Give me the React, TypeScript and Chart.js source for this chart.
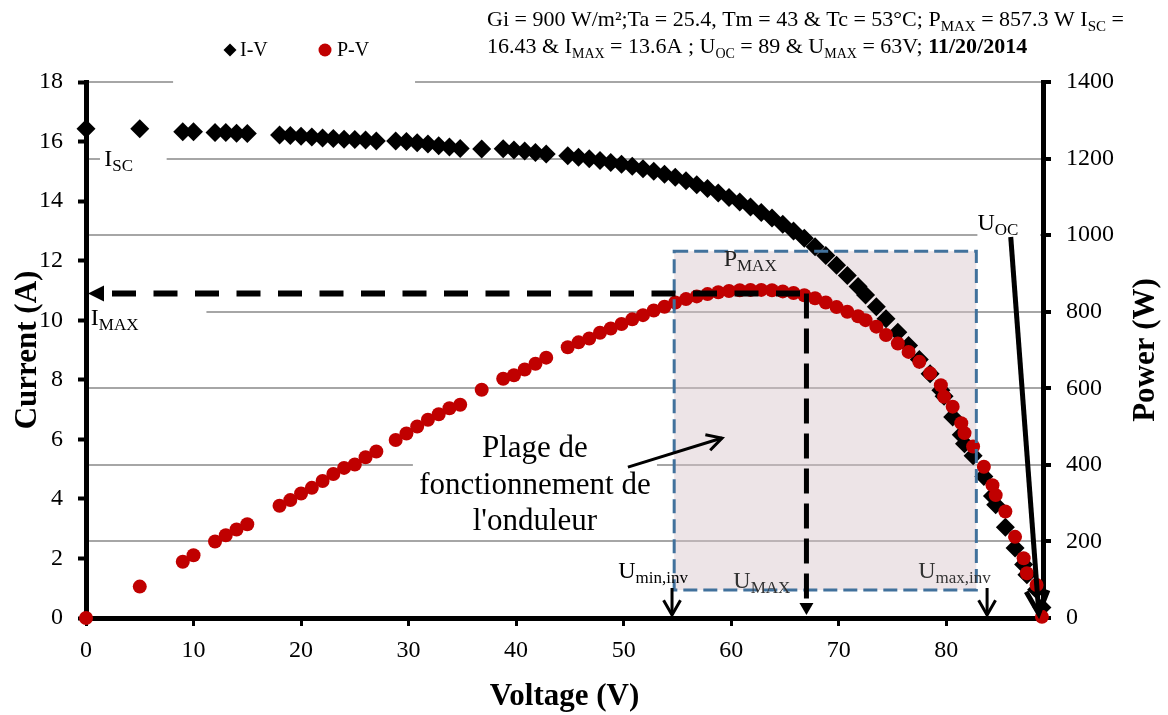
import React, { useEffect, useRef } from 'react';
import { Chart, registerables } from 'chart.js';

Chart.register(...registerables);

const FONT = "'Liberation Serif', 'Times New Roman', Times, serif";

// Measured voltage of each point (V)
const voltage = [
  0, 5, 9, 10, 12, 13, 14, 15,
  18, 19, 20, 21, 22, 23, 24, 25, 26, 27,
  28.8, 29.8, 30.8, 31.8, 32.8, 33.8, 34.8,
  36.8,
  38.8, 39.8, 40.8, 41.8, 42.8,
  44.8, 45.8, 46.8, 47.8, 48.8, 49.8, 50.8, 51.8, 52.8, 53.8, 54.8, 55.8, 56.8, 57.8,
  58.8, 59.8, 60.8, 61.8, 62.8, 63.8, 64.8, 65.8, 66.8, 67.8, 68.8, 69.8, 70.8, 71.8,
  72.5, 73.5, 74.4, 75.5, 76.5, 77.5, 78.5, 79.5, 79.8, 80.6, 81.4, 81.7, 82.5, 83.5,
  84.3, 84.6, 85.5, 86.4, 87.2, 87.5, 88.4, 88.9,
];

// I-V series: current (A)
const current = [
  16.43, 16.43, 16.33, 16.33, 16.3, 16.3, 16.28, 16.27,
  16.22, 16.2, 16.18, 16.15, 16.12, 16.1, 16.08, 16.07, 16.05, 16.02,
  16.02, 16.0, 15.96, 15.92, 15.86, 15.82, 15.77,
  15.75,
  15.76, 15.72, 15.68, 15.63, 15.58,
  15.52, 15.47, 15.42, 15.36, 15.3, 15.24, 15.17, 15.09, 15.0, 14.9, 14.8, 14.68, 14.55, 14.42,
  14.27, 14.12, 13.97, 13.8, 13.62, 13.43, 13.22, 13.0, 12.75, 12.47, 12.17, 11.85, 11.5, 11.13,
  10.85, 10.45, 10.05, 9.6, 9.15, 8.68, 8.2, 7.65, 7.45, 6.75, 6.15, 5.85, 5.45, 4.75,
  4.1, 3.8, 3.05, 2.35, 1.8, 1.45, 0.95, 0.35,
];

// P-V series: power (W)
const power = [
  0, 82, 147, 164, 200, 216, 231, 245,
  293, 308, 325, 340, 358, 376, 392, 401, 420, 435,
  465, 482, 500, 518, 532, 548, 557,
  596,
  625, 634, 649, 664, 680,
  707, 720, 730, 745, 756, 768, 780, 791, 803, 813, 824, 833, 840, 846,
  851, 854, 856, 857, 857, 856, 853, 849, 843, 835, 824, 812, 800, 788,
  778, 761, 739, 717, 695, 669, 639, 608, 578, 552, 509, 483, 448, 395,
  347, 321, 278, 212, 156, 117, 86, 3,
];

// Axis ranges
const X_RANGE = [0, 89];
const X_STEP = 10;
const I_RANGE = [0, 18];
const I_STEP = 2;
const P_RANGE = [0, 1400];
const P_STEP = 200;

// Annotation anchors (data units)
const BOX_V = [54.7, 82.8];
const BOX_W = [73, 958];
const IMAX_LEVEL_A = 10.9;
const UMAX_V = 67.0;
const UMIN_INV_V = 54.5;
const UMAX_INV_V = 83.8;
const UOC_FROM = [86.0, 995];
const UOC_TO = [88.6, 12];
const NOTE_FROM = [50.4, 394];
const NOTE_TO = [59.15, 470];

const gridBreaks = [
  { w: 1400, v0: 8.1, v1: 30.6 },
  { w: 1200, v0: 1.3, v1: 7.5 },
  { w: 1000, v0: 82.9, v1: 89 },
  { w: 800, v0: 0, v1: 11.2 },
  { w: 400, v0: 30.4, v1: 53.1 },
];

type Part = [string, string?];

function drawRich(
  ctx: CanvasRenderingContext2D,
  x: number,
  y: number,
  parts: Part[],
  size: number,
  color = '#000',
  subRatio = 0.7
) {
  const subSize = Math.round(size * subRatio);
  const fontFor = (k?: string) =>
    `${k === 'b' ? 'bold ' : ''}${k === 's' ? subSize : size}px ${FONT}`;
  let cx = x;
  ctx.fillStyle = color;
  ctx.textAlign = 'left';
  ctx.textBaseline = 'alphabetic';
  for (const [t, k] of parts) {
    ctx.font = fontFor(k);
    ctx.fillText(t, cx, y + (k === 's' ? size * 0.22 : 0));
    cx += ctx.measureText(t).width;
  }
  return cx - x;
}

function openHead(
  ctx: CanvasRenderingContext2D,
  fx: number,
  fy: number,
  tx: number,
  ty: number,
  len: number,
  ang: number
) {
  const a = Math.atan2(ty - fy, tx - fx);
  ctx.beginPath();
  ctx.moveTo(tx - len * Math.cos(a - ang), ty - len * Math.sin(a - ang));
  ctx.lineTo(tx, ty);
  ctx.lineTo(tx - len * Math.cos(a + ang), ty - len * Math.sin(a + ang));
  ctx.stroke();
}

const annotPlugin = {
  id: 'annot',
  beforeDatasetsDraw(chart: any) {
    const { ctx, chartArea } = chart;
    const { x, y1 } = chart.scales;
    ctx.save();
    ctx.fillStyle = '#fff';
    for (const g of gridBreaks) {
      const py = y1.getPixelForValue(g.w);
      const px0 = Math.max(x.getPixelForValue(g.v0), chartArea.left + 3);
      const px1 = Math.min(x.getPixelForValue(g.v1), chartArea.right - 3);
      ctx.fillRect(px0, py - 3, px1 - px0, 6);
    }
    const bx0 = x.getPixelForValue(BOX_V[0]);
    const bx1 = x.getPixelForValue(BOX_V[1]);
    const by0 = y1.getPixelForValue(BOX_W[1]);
    const by1 = y1.getPixelForValue(BOX_W[0]);
    ctx.fillStyle = 'rgba(214, 196, 202, 0.45)';
    ctx.fillRect(bx0, by0, bx1 - bx0, by1 - by0);
    ctx.restore();
  },
  afterDatasetsDraw(chart: any) {
    const { ctx, chartArea } = chart;
    const { x, y, y1 } = chart.scales;
    const X = (v: number) => x.getPixelForValue(v);
    const W = (w: number) => y1.getPixelForValue(w);
    const A = (a: number) => y.getPixelForValue(a);
    ctx.save();
    ctx.lineCap = 'butt';
    ctx.lineJoin = 'miter';

    // inverter operating range box
    ctx.strokeStyle = '#41719c';
    ctx.lineWidth = 3;
    ctx.setLineDash([14, 6]);
    ctx.strokeRect(X(BOX_V[0]), W(BOX_W[1]), X(BOX_V[1]) - X(BOX_V[0]), W(BOX_W[0]) - W(BOX_W[1]));

    // I_MAX dashed line with arrow to axis
    const ly = A(IMAX_LEVEL_A);
    const ux = X(UMAX_V);
    ctx.strokeStyle = '#000';
    ctx.lineWidth = 6;
    ctx.setLineDash([24, 17.5]);
    ctx.beginPath();
    ctx.moveTo(chartArea.left + 26, ly);
    ctx.lineTo(ux + 2, ly);
    ctx.stroke();
    ctx.setLineDash([]);
    ctx.fillStyle = '#000';
    ctx.beginPath();
    ctx.moveTo(chartArea.left + 2, ly);
    ctx.lineTo(chartArea.left + 18, ly - 8);
    ctx.lineTo(chartArea.left + 18, ly + 8);
    ctx.closePath();
    ctx.fill();

    // U_MAX vertical dashed line and marker
    ctx.lineWidth = 5;
    ctx.setLineDash([25, 10]);
    ctx.beginPath();
    ctx.moveTo(ux, ly);
    ctx.lineTo(ux, chartArea.bottom - 14);
    ctx.stroke();
    ctx.setLineDash([]);
    ctx.beginPath();
    ctx.moveTo(ux - 7, chartArea.bottom - 15);
    ctx.lineTo(ux + 7, chartArea.bottom - 15);
    ctx.lineTo(ux, chartArea.bottom - 3);
    ctx.closePath();
    ctx.fill();

    // U_min,inv and U_max,inv arrows
    ctx.lineWidth = 3;
    for (const v of [UMIN_INV_V, UMAX_INV_V]) {
      const px = X(v);
      const top = chartArea.bottom - 30;
      const tip = chartArea.bottom - 3;
      ctx.beginPath();
      ctx.moveTo(px, top);
      ctx.lineTo(px, tip);
      ctx.stroke();
      openHead(ctx, px, top, px, tip, 17, 0.52);
    }

    // U_OC arrow
    ctx.lineWidth = 5;
    const ox0 = X(UOC_FROM[0]);
    const oy0 = W(UOC_FROM[1]);
    const ox1 = X(UOC_TO[0]);
    const oy1 = W(UOC_TO[1]);
    ctx.beginPath();
    ctx.moveTo(ox0, oy0);
    ctx.lineTo(ox1, oy1 - 2);
    ctx.stroke();
    openHead(ctx, ox0, oy0, ox1, oy1, 25, 0.45);

    // note arrow
    ctx.lineWidth = 3;
    const nx0 = X(NOTE_FROM[0]);
    const ny0 = W(NOTE_FROM[1]);
    const nx1 = X(NOTE_TO[0]);
    const ny1 = W(NOTE_TO[1]);
    ctx.beginPath();
    ctx.moveTo(nx0, ny0);
    ctx.lineTo(nx1, ny1);
    ctx.stroke();
    openHead(ctx, nx0, ny0, nx1, ny1, 17, 0.5);
    ctx.restore();
  },
  afterDraw(chart: any) {
    const { ctx, chartArea } = chart;
    const { x, y, y1 } = chart.scales;
    const X = (v: number) => x.getPixelForValue(v);
    const W = (w: number) => y1.getPixelForValue(w);
    const A = (a: number) => y.getPixelForValue(a);
    ctx.save();

    // point labels
    drawRich(ctx, X(1.7), A(15.18), [['I'], ['SC', 's']], 24);
    drawRich(ctx, X(0.45), A(9.85), [['I'], ['MAX', 's']], 24);
    drawRich(ctx, X(59.3), W(919), [['P'], ['MAX', 's']], 24, '#222');
    drawRich(ctx, X(82.9), W(1013), [['U'], ['OC', 's']], 24);
    drawRich(ctx, X(49.5), W(104), [['U'], ['min,inv', 's']], 24);
    drawRich(ctx, X(60.2), W(78), [['U'], ['MAX', 's']], 24, '#333');
    drawRich(ctx, X(77.4), W(104), [['U'], ['max,inv', 's']], 24, '#333');

    // note text
    ctx.fillStyle = '#000';
    ctx.font = `31px ${FONT}`;
    ctx.textAlign = 'center';
    ctx.textBaseline = 'alphabetic';
    const nx = X(41.75);
    const ny = W(420.5);
    ['Plage de', 'fonctionnement de', "l'onduleur"].forEach((t, i) => ctx.fillText(t, nx, ny + i * 36.6));

    // right axis title
    ctx.save();
    ctx.translate(chartArea.right + 103, (chartArea.top + chartArea.bottom) / 2);
    ctx.rotate(-Math.PI / 2);
    ctx.font = `bold 31px ${FONT}`;
    ctx.textAlign = 'center';
    ctx.textBaseline = 'middle';
    ctx.fillText('Power (W)', 0, 0);
    ctx.restore();

    // legend
    ctx.fillStyle = '#000';
    ctx.beginPath();
    ctx.moveTo(230, 43.5);
    ctx.lineTo(236.5, 50);
    ctx.lineTo(230, 56.5);
    ctx.lineTo(223.5, 50);
    ctx.closePath();
    ctx.fill();
    ctx.font = `20px ${FONT}`;
    ctx.textAlign = 'left';
    ctx.textBaseline = 'middle';
    ctx.fillText('I-V', 240, 51);
    ctx.fillStyle = '#c00000';
    ctx.beginPath();
    ctx.arc(325, 50, 6.5, 0, Math.PI * 2);
    ctx.fill();
    ctx.fillStyle = '#000';
    ctx.fillText('P-V', 337, 51);

    // header text
    drawRich(
      ctx,
      487,
      26,
      [
        ['Gi = 900 W/m²;Ta = 25.4, Tm = 43 & Tc = 53°C; P'],
        ['MAX', 's'],
        [' = 857.3 W I'],
        ['SC', 's'],
        [' ='],
      ],
      22,
      '#000',
      0.66
    );
    drawRich(
      ctx,
      487,
      53,
      [
        ['16.43 & I'],
        ['MAX', 's'],
        [' = 13.6A ; U'],
        ['OC', 's'],
        [' = 89 & U'],
        ['MAX', 's'],
        [' = 63V; '],
        ['11/20/2014', 'b'],
      ],
      22,
      '#000',
      0.62
    );
    ctx.restore();
  },
};

export default function App() {
  const ref = useRef<HTMLCanvasElement>(null);
  useEffect(() => {
    if (!ref.current) return;
    const ivPoints = voltage.map((v, i) => ({ x: v, y: current[i] }));
    const pvPoints = voltage.map((v, i) => ({ x: v, y: power[i] }));
    const tickFont = { family: FONT, size: 24 };
    const plain = (v: any) => String(v);
    const chart = new Chart(ref.current, {
      type: 'scatter',
      data: {
        datasets: [
          {
            label: 'P-V',
            data: pvPoints,
            yAxisID: 'y1',
            pointStyle: 'circle',
            pointRadius: 7,
            pointBorderWidth: 0,
            backgroundColor: '#c00000',
            borderColor: '#c00000',
            showLine: false,
            clip: false,
            order: 0,
          },
          {
            label: 'I-V',
            data: ivPoints,
            yAxisID: 'y',
            pointStyle: 'rectRot',
            pointRadius: 9.5,
            pointBorderWidth: 0,
            backgroundColor: '#000',
            borderColor: '#000',
            showLine: false,
            clip: false,
            order: 1,
          },
        ],
      },
      options: {
        responsive: false,
        animation: false,
        events: [],
        layout: { padding: { top: 82, left: 0, right: 0, bottom: 0 } },
        plugins: {
          legend: { display: false },
          title: { display: false },
          tooltip: { enabled: false },
        },
        scales: {
          x: {
            type: 'linear',
            position: 'bottom',
            min: X_RANGE[0],
            max: X_RANGE[1],
            ticks: {
              stepSize: X_STEP,
              includeBounds: false,
              padding: 10,
              font: tickFont,
              color: '#000',
              maxRotation: 0,
              callback: plain,
            },
            grid: { drawOnChartArea: false, drawTicks: true, tickLength: 8, tickWidth: 3, tickColor: '#000' },
            border: { display: true, width: 5, color: '#000' },
            title: {
              display: true,
              text: 'Voltage (V)',
              color: '#000',
              font: { family: FONT, size: 31, weight: 'bold', lineHeight: 1 },
              padding: { top: 0, bottom: 3 },
            },
            afterFit: (s: any) => {
              s.height = 97;
            },
          },
          y: {
            type: 'linear',
            position: 'left',
            min: I_RANGE[0],
            max: I_RANGE[1],
            ticks: { stepSize: I_STEP, padding: 15, font: tickFont, color: '#000', callback: plain },
            grid: { drawOnChartArea: false, drawTicks: true, tickLength: 8, tickWidth: 4, tickColor: '#000' },
            border: { display: true, width: 5, color: '#000' },
            title: {
              display: true,
              text: 'Current (A)',
              color: '#000',
              font: { family: FONT, size: 31, weight: 'bold', lineHeight: 1 },
              padding: { top: 12, bottom: 0 },
            },
            afterFit: (s: any) => {
              s.width = 86;
            },
          },
          y1: {
            type: 'linear',
            position: 'right',
            min: P_RANGE[0],
            max: P_RANGE[1],
            ticks: { stepSize: P_STEP, padding: 15, font: tickFont, color: '#000', callback: plain },
            grid: {
              drawOnChartArea: true,
              color: '#a6a6a6',
              lineWidth: 2,
              drawTicks: true,
              tickLength: 8,
              tickWidth: 4,
              tickColor: '#000',
            },
            border: { display: true, width: 5, color: '#000' },
            afterFit: (s: any) => {
              s.width = 125;
            },
          },
        },
      } as any,
      plugins: [annotPlugin],
    });
    return () => chart.destroy();
  }, []);

  return (
    <div style={{ position: 'fixed', left: 0, top: 0, width: 1168, height: 715, background: '#fff' }}>
      <canvas ref={ref} width={1168} height={715} style={{ display: 'block', width: 1168, height: 715 }} />
    </div>
  );
}
